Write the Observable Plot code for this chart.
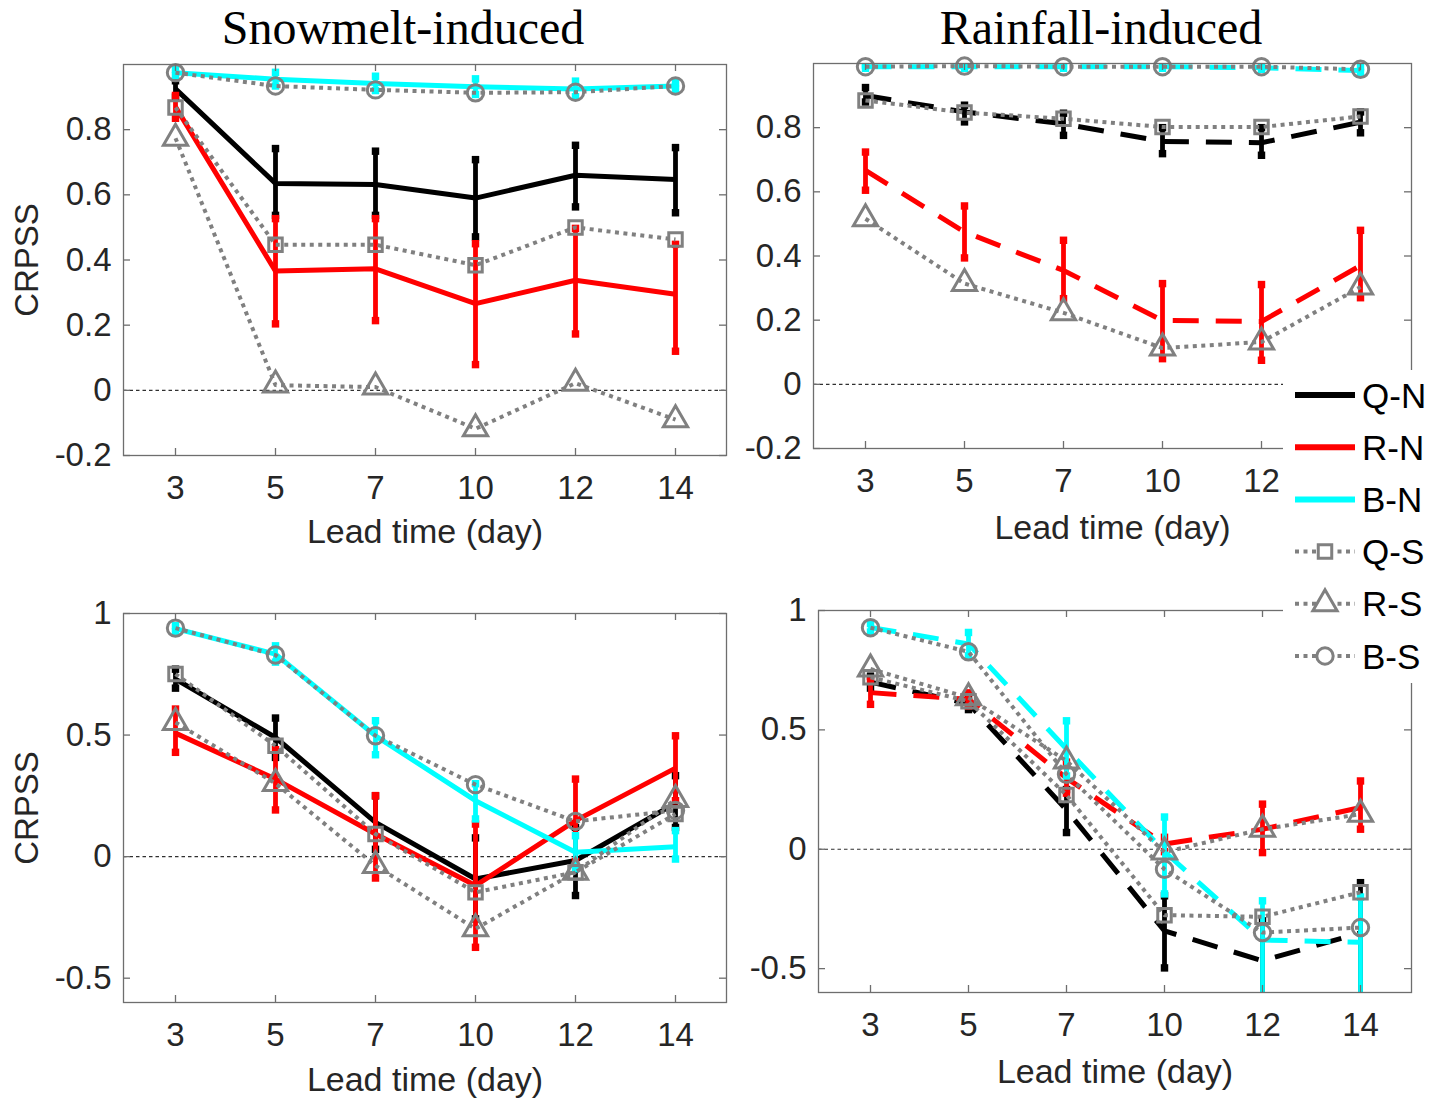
<!DOCTYPE html>
<html>
<head>
<meta charset="utf-8">
<script src="https://cdn.jsdelivr.net/npm/d3@7"></script>
<script src="https://cdn.jsdelivr.net/npm/@observablehq/plot@0.6"></script>
<style>
  body { margin: 0; background: #fff; }
  #wrap { position: relative; width: 1434px; height: 1098px; overflow: hidden; background: #fff; }
  .panel { position: absolute; }
  .panel svg { overflow: visible; }
  .title { position: absolute; top: 4px; width: 600px; text-align: center;
           font-family: "Liberation Serif", "Times New Roman", serif; font-size: 48px; line-height: 48px; color: #000; }
  #legend { position: absolute; left: 1283px; top: 370px; width: 151px; height: 313px; background: #fff; }
</style>
</head>
<body>
<div id="wrap">
  <div class="title" style="left:103px">Snowmelt-induced</div>
  <div class="title" style="left:801px">Rainfall-induced</div>
</div>
<script>
// ---------- data ----------
const leadTimes = ["3", "5", "7", "10", "12", "14"];
const yTicksTop = [-0.2, 0, 0.2, 0.4, 0.6, 0.8];
const yTicksBottom = [-0.5, 0, 0.5, 1];
const seriesNames = ["Q-N", "R-N", "B-N", "Q-S", "R-S", "B-S"];

// top-left (Snowmelt-induced, upper row)
const snowTop_QN    = [0.925, 0.635, 0.632, 0.590, 0.660, 0.647];
const snowTop_QN_lo = [0.900, 0.537, 0.537, 0.471, 0.563, 0.545];
const snowTop_QN_hi = [0.950, 0.742, 0.734, 0.708, 0.752, 0.745];
const snowTop_RN    = [0.870, 0.366, 0.373, 0.266, 0.338, 0.295];
const snowTop_RN_lo = [0.835, 0.204, 0.214, 0.079, 0.173, 0.120];
const snowTop_RN_hi = [0.905, 0.527, 0.527, 0.450, 0.497, 0.448];
const snowTop_BN    = [0.975, 0.955, 0.942, 0.932, 0.925, 0.934];
const snowTop_BN_lo = [0.965, 0.934, 0.920, 0.908, 0.901, 0.924];
const snowTop_BN_hi = [0.985, 0.976, 0.964, 0.956, 0.949, 0.944];
const snowTop_QS    = [0.868, 0.447, 0.447, 0.384, 0.500, 0.463];
const snowTop_RS    = [0.774, 0.016, 0.010, -0.118, 0.022, -0.090];
const snowTop_BS    = [0.975, 0.934, 0.922, 0.913, 0.915, 0.934];

// top-right (Rainfall-induced, upper row)
const rainTop_QN    = [0.900, 0.849, 0.812, 0.757, 0.753, 0.817];
const rainTop_QN_lo = [0.880, 0.818, 0.776, 0.719, 0.714, 0.784];
const rainTop_QN_hi = [0.925, 0.870, 0.845, 0.800, 0.800, 0.849];
const rainTop_RN    = [0.667, 0.475, 0.355, 0.199, 0.196, 0.370];
const rainTop_RN_lo = [0.605, 0.394, 0.267, 0.080, 0.075, 0.270];
const rainTop_RN_hi = [0.724, 0.556, 0.449, 0.314, 0.311, 0.480];
const rainTop_BN    = [0.990, 0.990, 0.990, 0.990, 0.987, 0.978];
const rainTop_BN_lo = [0.985, 0.985, 0.985, 0.985, 0.982, 0.972];
const rainTop_BN_hi = [0.995, 0.995, 0.995, 0.995, 0.992, 0.990];
const rainTop_QS    = [0.885, 0.847, 0.828, 0.802, 0.802, 0.835];
const rainTop_RS    = [0.516, 0.314, 0.223, 0.113, 0.132, 0.303];
const rainTop_BS    = [0.990, 0.992, 0.990, 0.990, 0.990, 0.982];

// bottom-left (Snowmelt-induced, lower row)
const snowBot_QN    = [0.730, 0.490, 0.141, -0.092, -0.016, 0.220];
const snowBot_QN_lo = [0.693, 0.408, 0.030, -0.256, -0.160, 0.120];
const snowBot_QN_hi = [0.771, 0.570, 0.250, 0.077, 0.120, 0.333];
const snowBot_RN    = [0.508, 0.319, 0.093, -0.119, 0.148, 0.364];
const snowBot_RN_lo = [0.429, 0.192, -0.088, -0.373, -0.020, 0.230];
const snowBot_RN_hi = [0.607, 0.440, 0.251, 0.134, 0.319, 0.497];
const snowBot_BN    = [0.938, 0.833, 0.497, 0.230, 0.018, 0.041];
const snowBot_BN_lo = [0.925, 0.800, 0.419, 0.155, -0.050, -0.010];
const snowBot_BN_hi = [0.950, 0.867, 0.559, 0.300, 0.086, 0.107];
const snowBot_QS    = [0.751, 0.456, 0.093, -0.147, -0.064, 0.175];
const snowBot_RS    = [0.552, 0.301, -0.037, -0.297, -0.064, 0.235];
const snowBot_BS    = [0.940, 0.829, 0.497, 0.296, 0.145, 0.190];

// bottom-right (Rainfall-induced, lower row)
const rainBot_QN    = [0.700, 0.610, 0.165, -0.342, -0.467, -0.350];
const rainBot_QN_lo = [0.675, 0.585, 0.070, -0.497, -0.620, -0.620];
const rainBot_QN_hi = [0.725, 0.635, 0.250, -0.195, -0.300, -0.140];
const rainBot_RN    = [0.656, 0.628, 0.298, 0.022, 0.084, 0.175];
const rainBot_RN_lo = [0.607, 0.600, 0.235, -0.010, -0.014, 0.084];
const rainBot_RN_hi = [0.705, 0.655, 0.365, 0.050, 0.189, 0.286];
const rainBot_BN    = [0.929, 0.860, 0.420, -0.010, -0.380, -0.390];
const rainBot_BN_lo = [0.910, 0.810, 0.307, -0.187, -0.620, -0.620];
const rainBot_BN_hi = [0.945, 0.908, 0.538, 0.135, -0.216, -0.200];
const rainBot_QS    = [0.720, 0.620, 0.227, -0.276, -0.283, -0.180];
const rainBot_RS    = [0.755, 0.635, 0.370, -0.012, 0.084, 0.147];
const rainBot_BS    = [0.928, 0.827, 0.314, -0.084, -0.349, -0.328];

// ---------- styles ----------
const colorN = {"Q-N": "#000000", "R-N": "#ff0000", "B-N": "#00ffff"};
const grayS = "#808080";
const symbolS = {"Q-S": "square", "R-S": "triangle", "B-S": "circle"};
const d3SymbolS = {"Q-S": d3.symbolSquare, "R-S": d3.symbolTriangle, "B-S": d3.symbolCircle};
const rS = {"Q-S": 7.6, "R-S": 9, "B-S": 8.2};
const axisGray = "#6e6e6e";
const textColor = "#262626";
const fontFamily = "'Liberation Sans', Arial, Helvetica, sans-serif";

function rowsOf(v, lo, hi) {
  return leadTimes.map((x, i) => ({x, v: v[i], lo: lo ? lo[i] : null, hi: hi ? hi[i] : null}));
}

function panel(cfg) {
  const {left, top, width, height, mL, mR, mT, mB, yDomain, yTicks, dashed, N, S, ylabel, xlabDy, hiddenX} = cfg;
  const fw = width - mL - mR, fh = height - mT - mB;
  const marks = [];
  marks.push(Plot.ruleY([0], {y: d => d, stroke: "#303030", strokeWidth: 1.1, strokeDasharray: "3.5,3"}));
  for (const s of N) {
    const rows = rowsOf(s.v, s.lo, s.hi);
    const lineOpts = {x: "x", y: "v", stroke: colorN[s.name], strokeWidth: 5, strokeLinecap: "butt", strokeLinejoin: "round", clip: true};
    if (dashed) lineOpts.strokeDasharray = "26,17";
    marks.push(Plot.line(rows, lineOpts));
    marks.push(Plot.ruleX(rows, {x: "x", y1: "lo", y2: "hi", stroke: colorN[s.name], strokeWidth: 4.8, clip: true}));
    marks.push(Plot.dot(rows, {x: "x", y: "lo", symbol: "square", r: 4.2, fill: colorN[s.name], clip: true}));
    marks.push(Plot.dot(rows, {x: "x", y: "hi", symbol: "square", r: 4.2, fill: colorN[s.name], clip: true}));
  }
  for (const s of S) {
    const rows = rowsOf(s.v);
    marks.push(Plot.line(rows, {x: "x", y: "v", stroke: grayS, strokeWidth: 4, strokeDasharray: "4,4.5", strokeLinecap: "butt", clip: true}));
    marks.push(Plot.dot(rows, {x: "x", y: "v", symbol: symbolS[s.name], r: rS[s.name], stroke: grayS, strokeWidth: 3, fill: "none"}));
  }
  marks.push(Plot.frame({stroke: axisGray, strokeWidth: 1.3}));
  marks.push(Plot.ruleY(yTicks, {y: d => d, insetRight: fw - 7, stroke: axisGray, strokeWidth: 1.3}));
  marks.push(Plot.ruleY(yTicks, {y: d => d, insetLeft: fw - 7, stroke: axisGray, strokeWidth: 1.3}));
  marks.push(Plot.ruleX(leadTimes, {x: d => d, insetTop: fh - 7, stroke: axisGray, strokeWidth: 1.3}));
  marks.push(Plot.ruleX(leadTimes, {x: d => d, insetBottom: fh - 7, stroke: axisGray, strokeWidth: 1.3}));
  marks.push(Plot.axisY({ticks: yTicks, tickFormat: d => String(d), tickSize: 0, tickPadding: 12, label: null, color: textColor}));
  marks.push(Plot.axisX({ticks: leadTimes.filter(t => t !== hiddenX), tickSize: 0, tickPadding: 20, label: null, color: textColor}));
  marks.push(Plot.text(["Lead time (day)"], {text: d => d, frameAnchor: "bottom", dy: xlabDy, lineAnchor: "middle", textAnchor: "middle", fill: textColor, fontSize: 34}));
  if (ylabel) {
    marks.push(Plot.text(["CRPSS"], {text: d => d, frameAnchor: "left", dx: -96, rotate: -90, lineAnchor: "middle", textAnchor: "middle", fill: textColor, fontSize: 33}));
  }
  const chart = Plot.plot({
    width, height,
    marginLeft: mL, marginRight: mR, marginTop: mT, marginBottom: mB,
    x: {type: "point", domain: leadTimes, padding: 0.5},
    y: {domain: yDomain},
    style: {fontSize: "33px", fontFamily, background: "transparent", overflow: "visible"},
    marks
  });
  const div = document.createElement("div");
  div.className = "panel";
  div.style.left = left + "px";
  div.style.top = top + "px";
  div.appendChild(chart);
  document.getElementById("wrap").appendChild(div);
}

function nSeries(qv, ql, qh, rv, rl, rh, bv, bl, bh) {
  return [
    {name: "Q-N", v: qv, lo: ql, hi: qh},
    {name: "R-N", v: rv, lo: rl, hi: rh},
    {name: "B-N", v: bv, lo: bl, hi: bh}
  ];
}
function sSeries(q, r, b) {
  return [{name: "Q-S", v: q}, {name: "R-S", v: r}, {name: "B-S", v: b}];
}

panel({left: 0, top: 50, width: 740, height: 510, mL: 123, mR: 14, mT: 14, mB: 105,
  yDomain: [-0.2, 1.0], yTicks: yTicksTop, dashed: false, ylabel: true, xlabDy: 77,
  N: nSeries(snowTop_QN, snowTop_QN_lo, snowTop_QN_hi, snowTop_RN, snowTop_RN_lo, snowTop_RN_hi, snowTop_BN, snowTop_BN_lo, snowTop_BN_hi),
  S: sSeries(snowTop_QS, snowTop_RS, snowTop_BS)});

// the "14" label of this panel lies under the legend in the reference
panel({left: 740, top: 50, width: 694, height: 510, mL: 73, mR: 23, mT: 13, mB: 112,
  yDomain: [-0.2, 1.0], yTicks: yTicksTop, dashed: true, ylabel: false, xlabDy: 80, hiddenX: "14",
  N: nSeries(rainTop_QN, rainTop_QN_lo, rainTop_QN_hi, rainTop_RN, rainTop_RN_lo, rainTop_RN_hi, rainTop_BN, rainTop_BN_lo, rainTop_BN_hi),
  S: sSeries(rainTop_QS, rainTop_RS, rainTop_BS)});

panel({left: 0, top: 560, width: 740, height: 538, mL: 123, mR: 14, mT: 53, mB: 96,
  yDomain: [-0.6, 1.0], yTicks: yTicksBottom, dashed: false, ylabel: true, xlabDy: 78,
  N: nSeries(snowBot_QN, snowBot_QN_lo, snowBot_QN_hi, snowBot_RN, snowBot_RN_lo, snowBot_RN_hi, snowBot_BN, snowBot_BN_lo, snowBot_BN_hi),
  S: sSeries(snowBot_QS, snowBot_RS, snowBot_BS)});

panel({left: 740, top: 560, width: 694, height: 538, mL: 78, mR: 23, mT: 50, mB: 106,
  yDomain: [-0.6, 1.0], yTicks: yTicksBottom, dashed: true, ylabel: false, xlabDy: 80,
  N: nSeries(rainBot_QN, rainBot_QN_lo, rainBot_QN_hi, rainBot_RN, rainBot_RN_lo, rainBot_RN_hi, rainBot_BN, rainBot_BN_lo, rainBot_BN_hi),
  S: sSeries(rainBot_QS, rainBot_RS, rainBot_BS)});

// ---------- legend ----------
const legDiv = document.createElement("div");
legDiv.id = "legend";
document.getElementById("wrap").appendChild(legDiv);
const leg = d3.select(legDiv).append("svg").attr("width", 151).attr("height", 313);
seriesNames.forEach((name, i) => {
  const y = 25 + i * 52.2;
  const g = leg.append("g");
  if (colorN[name]) {
    g.append("line").attr("x1", 12).attr("x2", 72).attr("y1", y).attr("y2", y)
      .attr("stroke", colorN[name]).attr("stroke-width", 6);
  } else {
    g.append("line").attr("x1", 12).attr("x2", 72).attr("y1", y).attr("y2", y)
      .attr("stroke", grayS).attr("stroke-width", 4).attr("stroke-dasharray", "4,4.5");
    const r = rS[name];
    g.append("path").attr("d", d3.symbol(d3SymbolS[name], Math.PI * r * r)())
      .attr("transform", `translate(42,${y})`)
      .attr("fill", "#fff").attr("stroke", grayS).attr("stroke-width", 3);
  }
  g.append("text").attr("x", 79).attr("y", y).attr("dy", "0.36em")
    .attr("font-family", "'Liberation Sans', Arial, sans-serif").attr("font-size", 35)
    .attr("fill", "#000").text(name);
});
</script>
</body>
</html>
